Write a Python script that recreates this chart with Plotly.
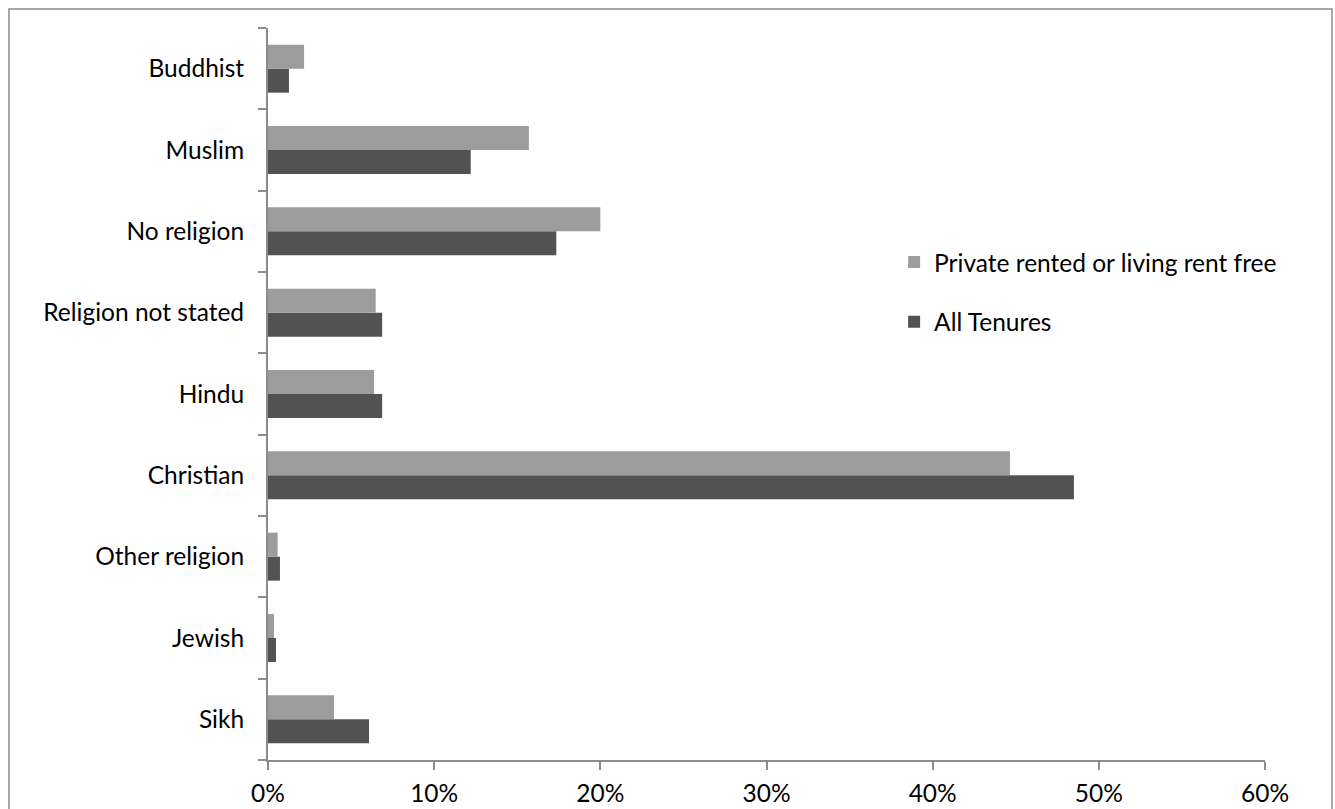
import plotly.graph_objects as go

# Religion categories, listed bottom to top
religions = ["Sikh", "Jewish", "Other religion", "Christian", "Hindu",
             "Religion not stated", "No religion", "Muslim", "Buddhist"]

# Share of households (fractions)
all_tenures = [0.0608, 0.0048, 0.0072, 0.485, 0.0687, 0.0687, 0.1735, 0.122, 0.0126]
private_rented = [0.0397, 0.0036, 0.0058, 0.4465, 0.0638, 0.0648, 0.200, 0.157, 0.0217]

x_ticks = [0, 0.1, 0.2, 0.3, 0.4, 0.5, 0.6]

FONT = "Lato, 'Open Sans', sans-serif"
FONT_SIZE = 24.5
AXIS_GREY = "#8c8c8c"

fig = go.Figure()
fig.add_trace(go.Bar(
    y=religions, x=all_tenures, orientation="h", name="All Tenures",
    marker=dict(color="#525252", line=dict(width=0)),
    legendgroup="b", legendrank=2,
))
fig.add_trace(go.Bar(
    y=religions, x=private_rented, orientation="h",
    name="Private rented or living rent free",
    marker=dict(color="#9c9c9c", line=dict(width=0)),
    legendgroup="a", legendrank=1,
))

fig.update_layout(
    width=1335, height=809,
    margin=dict(l=268, r=70, t=28, b=49),
    paper_bgcolor="white", plot_bgcolor="white",
    barmode="group", bargap=0.41, bargroupgap=0,
    font=dict(family=FONT, size=FONT_SIZE, color="black"),
    showlegend=True,
    legend=dict(
        x=0.628, y=0.711, xanchor="left", yanchor="top",
        traceorder="grouped", tracegroupgap=25,
        font=dict(family=FONT, size=FONT_SIZE, color="black"),
        bgcolor="rgba(0,0,0,0)",
    ),
    xaxis=dict(
        range=[0, 0.6], tickvals=x_ticks, tickformat=".0%",
        showgrid=False, zeroline=False,
        showline=True, linecolor=AXIS_GREY, linewidth=2,
        ticks="outside", ticklen=8, tickwidth=2, tickcolor=AXIS_GREY,
        ticklabelstandoff=3, automargin=False,
        fixedrange=True,
    ),
    yaxis=dict(
        type="category", categoryorder="array", categoryarray=religions,
        showgrid=False, zeroline=False,
        showline=True, linecolor=AXIS_GREY, linewidth=2,
        ticks="outside", ticklen=8, tickwidth=2, tickcolor=AXIS_GREY,
        tickson="boundaries", ticklabelstandoff=17, automargin=False,
        fixedrange=True,
    ),
    shapes=[dict(
        type="rect", xref="paper", yref="paper",
        x0=-0.2598, x1=1.0672, y0=-0.12, y1=1.026,
        line=dict(color="#8c8c8c", width=1.5), fillcolor="rgba(0,0,0,0)",
        layer="below",
    )],
)

fig.write_html("out.html", config=dict(displayModeBar=False))
